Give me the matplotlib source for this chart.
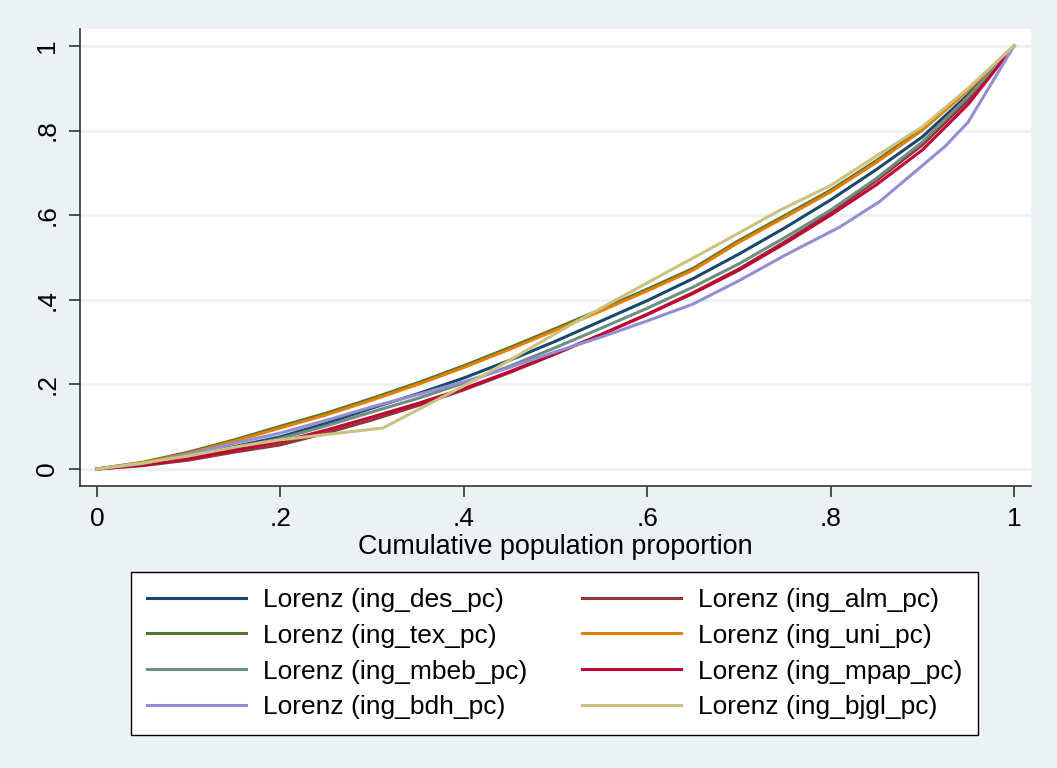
import matplotlib
matplotlib.use('Agg')
import matplotlib.pyplot as plt
import numpy as np

plt.rcParams['font.family'] = ['Liberation Sans', 'DejaVu Sans']

# common population grid
x_std = [0, .05, .1, .15, .2, .25, .3, .35, .4, .45, .5, .55, .6, .65, .7, .75, .8, .85, .9, .95, 1]

des = [0, .012, .030, .053, .076, .108, .144, .178, .215, .257, .302, .350, .398, .450, .508, .570, .636, .708, .785, .885, 1]
alm = [0, .008, .021, .040, .057, .085, .116, .150, .187, .228, .272, .318, .366, .417, .473, .537, .606, .682, .766, .872, 1]
tex = [0, .016, .040, .069, .101, .132, .167, .204, .244, .287, .332, .378, .425, .474, .540, .599, .659, .729, .805, .898, 1]
uni = [0, .015, .037, .066, .097, .128, .163, .200, .240, .283, .328, .374, .421, .470, .536, .595, .655, .725, .801, .895, 1]
mbeb = [0, .011, .028, .050, .072, .102, .135, .167, .203, .243, .287, .333, .380, .430, .485, .547, .612, .687, .773, .880, 1]
mpap = [0, .009, .024, .045, .064, .092, .123, .155, .190, .230, .273, .318, .365, .415, .470, .533, .600, .672, .754, .862, 1]

x_bdh = [0, .05, .1, .15, .2, .25, .3, .35, .4, .45, .5, .55, .6, .65, .7, .75, .81, .854, .925, .95, 1]
bdh = [0, .013, .035, .061, .085, .115, .147, .176, .206, .240, .277, .312, .350, .390, .445, .505, .572, .633, .763, .820, 1]

x_bjgl = [0, .05, .1, .156, .2, .312, .418, .52, .6, .68, .745, .8, .85, .9, .95, 1]
bjgl = [0, .014, .031, .054, .069, .097, .217, .345, .44, .534, .612, .670, .740, .809, .900, 1]

series = [
    ('Lorenz (ing_des_pc)', x_std, des, '#1a476f'),
    ('Lorenz (ing_alm_pc)', x_std, alm, '#90353b'),
    ('Lorenz (ing_tex_pc)', x_std, tex, '#55752f'),
    ('Lorenz (ing_uni_pc)', x_std, uni, '#e37e00'),
    ('Lorenz (ing_mbeb_pc)', x_std, mbeb, '#6e8e84'),
    ('Lorenz (ing_mpap_pc)', x_std, mpap, '#c10534'),
    ('Lorenz (ing_bdh_pc)', x_bdh, bdh, '#938dd2'),
    ('Lorenz (ing_bjgl_pc)', x_bjgl, bjgl, '#cac27e'),
]

bg = '#eaf2f3'
fig = plt.figure(figsize=(10.57, 7.68), dpi=100, facecolor=bg)
ax = fig.add_axes([80/1057, 1-486/768, (1031-80)/1057, (486-29)/768])
ax.set_facecolor('white')

handles = []
for label, xs, ys, col in series:
    h, = ax.plot(xs, ys, color=col, lw=2.2, label=label, solid_joinstyle='round')
    handles.append(h)

ax.set_xlim(-0.0185, 1.0185)
ax.set_ylim(-0.0402, 1.040)
ticks = [0, .2, .4, .6, .8, 1]
tick_labels = ['0', '.2', '.4', '.6', '.8', '1']
ax.set_xticks(ticks)
ax.set_xticklabels(tick_labels)
ax.set_yticks(ticks)
ax.set_yticklabels(tick_labels, rotation=90, va='center')
ax.yaxis.grid(True, color=bg, lw=2)
ax.set_axisbelow(True)
for s in ['top', 'right']:
    ax.spines[s].set_visible(False)
for s in ['left', 'bottom']:
    ax.spines[s].set_color('#333333')
    ax.spines[s].set_linewidth(1.2)
ax.tick_params(axis='both', length=8, width=1.2, color='#333333', labelsize=19, pad=7)
ax.set_xlabel('Cumulative population proportion', fontsize=19.4, labelpad=2)

# stata legend runs row-wise, matplotlib fills columns first
order = [0, 2, 4, 6, 1, 3, 5, 7]
leg = fig.legend([handles[i] for i in order], [series[i][0] for i in order],
                 ncol=2, loc='upper left', mode='expand', borderaxespad=0,
                 bbox_to_anchor=(131/1057, 1-735/768, (978-131)/1057, (735-572)/768),
                 fontsize=19, frameon=True, fancybox=False, edgecolor='black',
                 facecolor='white', framealpha=1,
                 handlelength=3.75, handletextpad=0.64, labelspacing=0.45, borderpad=0.6)
leg.get_frame().set_linewidth(1.0)
for lh in leg.get_lines():
    lh.set_linewidth(2.2)

fig.savefig('out.png', dpi=100, facecolor=bg)
